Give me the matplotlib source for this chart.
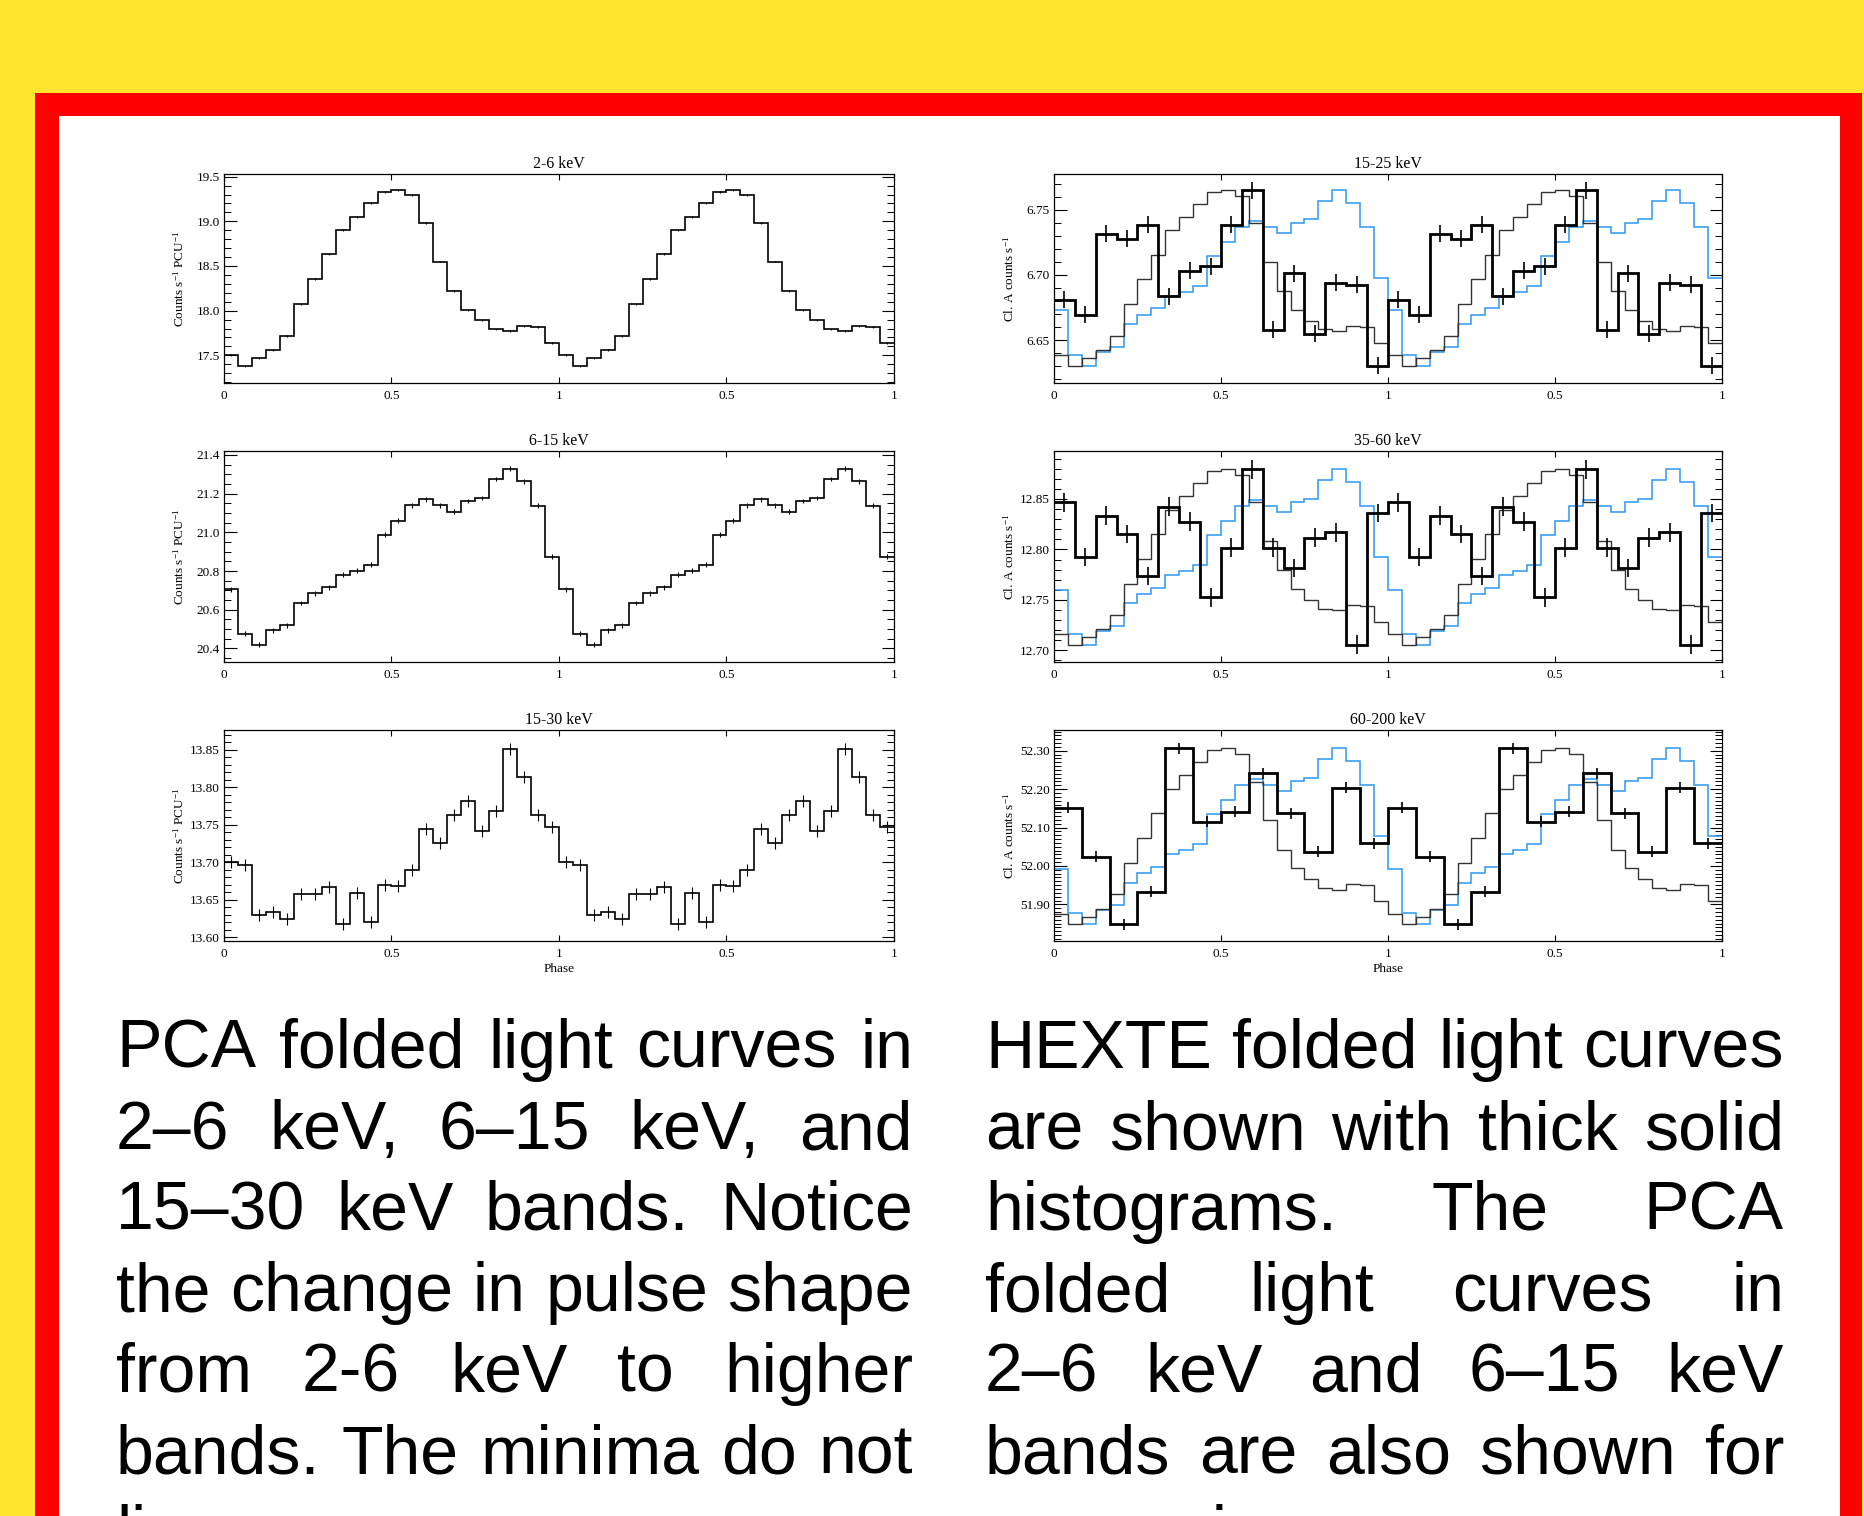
import numpy as np
import matplotlib
matplotlib.use("Agg")
import matplotlib.pyplot as plt
from matplotlib.patches import Rectangle
from matplotlib.ticker import MultipleLocator, FormatStrFormatter, FixedLocator, FixedFormatter

# ---------------------------------------------------------------- data
# PCA folded light curves (24 phase bins per cycle)
pca_2_6 = [17.500, 17.384, 17.470, 17.560, 17.720, 18.070, 18.350, 18.630,
           18.900, 19.050, 19.200, 19.330, 19.350, 19.290, 18.980, 18.550,
           18.220, 18.010, 17.890, 17.790, 17.770, 17.830, 17.820, 17.640]
pca_6_15 = [20.706, 20.477, 20.420, 20.493, 20.519, 20.634, 20.684, 20.716,
            20.781, 20.802, 20.833, 20.988, 21.060, 21.140, 21.171, 21.140,
            21.106, 21.161, 21.177, 21.275, 21.328, 21.263, 21.137, 20.874]
pca_15_30 = [13.700, 13.696, 13.630, 13.633, 13.624, 13.658, 13.658, 13.667,
             13.618, 13.659, 13.620, 13.670, 13.668, 13.690, 13.744, 13.726,
             13.763, 13.781, 13.742, 13.768, 13.851, 13.814, 13.763, 13.747]

# HEXTE folded light curves
hexte_15_25 = [6.6811, 6.6696, 6.7314, 6.7276, 6.7385, 6.6837, 6.7033, 6.7066,
               6.7385, 6.7648, 6.6582, 6.7015, 6.6551, 6.6939, 6.6926, 6.6306]
hexte_35_60 = [12.8467, 12.7926, 12.8335, 12.8151, 12.7738, 12.8424, 12.8276, 12.7524,
               12.8019, 12.8793, 12.8019, 12.7814, 12.8118, 12.8170, 12.7056, 12.8360]
hexte_60_200 = [52.1516, 52.0241, 51.8479, 51.9330, 52.3061, 52.1152,
                52.1412, 52.2410, 52.1369, 52.0371, 52.2037, 52.0588]

# typical 1-sigma errors per band
err_2_6, err_6_15, err_15_30 = 0.010, 0.012, 0.008
err_15_25, err_35_60, err_60_200 = 0.0065, 0.0092, 0.014

titles_left = ["2-6 keV", "6-15 keV", "15-30 keV"]
titles_right = ["15-25 keV", "35-60 keV", "60-200 keV"]
phase_ticks = [0, 0.5, 1, 1.5, 2]
phase_labels = ["0", "0.5", "1", "0.5", "1"]

left_text = ["PCA folded light curves in",
             "2\u20136 keV, 6\u201315 keV, and",
             "15\u201330 keV bands. Notice",
             "the change in pulse shape",
             "from 2-6 keV to higher",
             "bands. The minima do not",
             "line up"]
right_text = ["HEXTE folded light curves",
              "are shown with thick solid",
              "histograms. The PCA",
              "folded light curves in",
              "2\u20136 keV and 6\u201315 keV",
              "bands are also shown for",
              "comparison."]

# ---------------------------------------------------------------- style
YELLOW = "#ffe62e"
RED = "#ff0000"
BLUE = "#2b97f2"
GREY = "#333333"
W, H = 1865, 1516

plt.rcParams["font.family"] = ["Liberation Serif", "DejaVu Serif"]
plt.rcParams["mathtext.fontset"] = "custom"
plt.rcParams["mathtext.rm"] = "Liberation Serif"
plt.rcParams["mathtext.it"] = "Liberation Serif:italic"
plt.rcParams["mathtext.bf"] = "Liberation Serif:bold"

fig = plt.figure(figsize=(W / 100, H / 100), dpi=100, facecolor=YELLOW)


def fx(px):
    return px / W


def fy(py):
    return 1 - py / H


# poster frame
fig.add_artist(Rectangle((fx(35), 0), fx(1862) - fx(35), fy(93),
                         transform=fig.transFigure, fc=RED, ec="none", zorder=-10))
fig.add_artist(Rectangle((fx(59), 0), fx(1840) - fx(59), fy(116),
                         transform=fig.transFigure, fc="white", ec="none", zorder=-9))


def make_axes(x0, x1, y0, y1):
    return fig.add_axes([fx(x0), fy(y1), fx(x1) - fx(x0), (y1 - y0) / H])


def style_axes(ax, ylim, major, minor, fmt, ylabel, title, xlabel=None):
    ax.set_xlim(0, 2)
    ax.set_ylim(*ylim)
    ax.xaxis.set_major_locator(FixedLocator(phase_ticks))
    ax.xaxis.set_major_formatter(FixedFormatter(phase_labels))
    ax.yaxis.set_major_locator(MultipleLocator(major))
    ax.yaxis.set_minor_locator(MultipleLocator(minor))
    ax.yaxis.set_major_formatter(FormatStrFormatter(fmt))
    ax.tick_params(axis="y", which="major", direction="in", length=9, width=0.8,
                   left=True, right=True, labelsize=9.5, pad=3)
    ax.tick_params(axis="y", which="minor", direction="in", length=5, width=0.7,
                   left=True, right=True)
    ax.tick_params(axis="x", which="major", direction="in", length=4, width=0.8,
                   top=True, bottom=True, labelsize=9.5, pad=5)
    for sp in ax.spines.values():
        sp.set_linewidth(0.9)
    ax.set_ylabel(ylabel, fontsize=9.5)
    ax.yaxis.set_label_coords(-0.056, 0.5)
    ax.set_title(title, fontsize=11.5, pad=4)
    if xlabel:
        ax.set_xlabel(xlabel, fontsize=9.5, labelpad=2)


def draw_curve(ax, vals, err, color="k", lw=1.2, elw=0.8, zorder=3):
    n = len(vals)
    edges = np.linspace(0, 2, 2 * n + 1)
    v2 = np.tile(vals, 2)
    ax.stairs(v2, edges, baseline=None, color=color, lw=lw, zorder=zorder)
    if err is not None:
        centers = 0.5 * (edges[:-1] + edges[1:])
        ax.errorbar(centers, v2, yerr=err, fmt="none", ecolor=color,
                    elinewidth=elw, capsize=0, zorder=zorder)


def rescale(src, ref):
    src = np.asarray(src, float)
    lo, hi = min(ref), max(ref)
    return lo + (src - src.min()) / (src.max() - src.min()) * (hi - lo)


rows = [(174, 383), (451, 662), (730, 941)]
LX = (224, 894)
RX = (1054, 1722)

pca_label = "Counts s$^{-1}$ PCU$^{-1}$"
hexte_label = "Cl. A counts s$^{-1}$"

# ---------------- PCA panels
pca_sets = [
    (pca_2_6, err_2_6, (17.19, 19.53), 0.5, 0.1, "%.1f"),
    (pca_6_15, err_6_15, (20.33, 21.42), 0.2, 0.05, "%.1f"),
    (pca_15_30, err_15_30, (13.595, 13.876), 0.05, 0.01, "%.2f"),
]
for i, (vals, err, ylim, maj, mnr, fmt) in enumerate(pca_sets):
    ax = make_axes(LX[0], LX[1], *rows[i])
    draw_curve(ax, vals, err, lw=1.2, elw=0.8)
    style_axes(ax, ylim, maj, mnr, fmt, pca_label, titles_left[i],
               "Phase" if i == 2 else None)

# ---------------- HEXTE panels with PCA overlays
hexte_sets = [
    (hexte_15_25, err_15_25, (6.6173, 6.7773), 0.05, 0.01, "%.2f"),
    (hexte_35_60, err_35_60, (12.6885, 12.8975), 0.05, 0.01, "%.2f"),
    (hexte_60_200, err_60_200, (51.8046, 52.354), 0.1, 0.01, "%.2f"),
]
for i, (vals, err, ylim, maj, mnr, fmt) in enumerate(hexte_sets):
    ax = make_axes(RX[0], RX[1], *rows[i])
    draw_curve(ax, rescale(pca_6_15, vals), None, color=BLUE, lw=1.1, zorder=2)
    draw_curve(ax, rescale(pca_2_6, vals), None, color=GREY, lw=1.0, zorder=2)
    draw_curve(ax, vals, err, color="k", lw=2.0, elw=1.2, zorder=4)
    style_axes(ax, ylim, maj, mnr, fmt, hexte_label, titles_right[i],
               "Phase" if i == 2 else None)

# ---------------- justified caption columns
TEXT_FONT = ["Liberation Sans", "DejaVu Sans"]
FS = 49
fig.canvas.draw()
renderer = fig.canvas.get_renderer()


def text_width(s):
    t = fig.text(0, 0, s, fontsize=FS, family=TEXT_FONT)
    w = t.get_window_extent(renderer).width
    t.remove()
    return w


space_w = text_width("n n") - text_width("nn")


def paragraph(lines, x0, x1, base0, dy):
    for k, line in enumerate(lines):
        words = line.split()
        widths = [text_width(w) for w in words]
        last = k == len(lines) - 1
        if last or len(words) == 1:
            gap = space_w
        else:
            gap = max((x1 - x0 - sum(widths)) / (len(words) - 1), 0.5 * space_w)
        x = x0
        y = base0 + k * dy
        for w, wd in zip(words, widths):
            fig.text(fx(x), fy(y), w, fontsize=FS, family=TEXT_FONT,
                     ha="left", va="baseline", color="black")
            x += wd + gap


paragraph(left_text, 116, 913, 1068, 81)
paragraph(right_text, 985, 1784, 1068, 81)

fig.savefig("out.png", dpi=100, facecolor=YELLOW)
